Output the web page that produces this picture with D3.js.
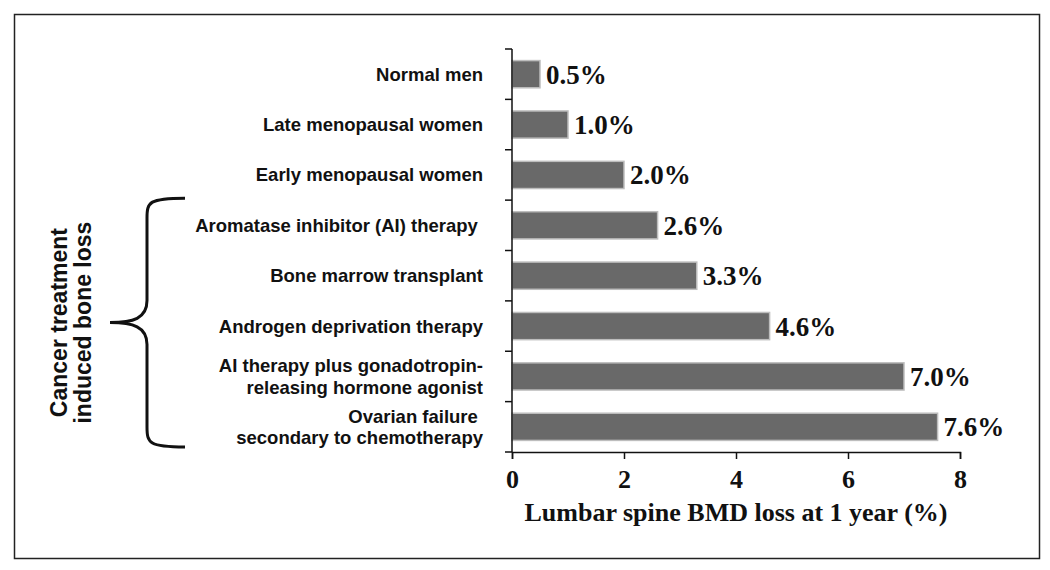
<!DOCTYPE html>
<html>
<head>
<meta charset="utf-8">
<script src="https://cdn.jsdelivr.net/npm/d3@7"></script>
<style>
  body { margin: 0; background: #fff; }
  svg text { white-space: pre; }
</style>
</head>
<body>
<div id="chart"></div>
<script>
// chart data
const categories = [
  ["Normal men"],
  ["Late menopausal women"],
  ["Early menopausal women"],
  ["Aromatase inhibitor (AI) therapy "],
  ["Bone marrow transplant"],
  ["Androgen deprivation therapy"],
  ["AI therapy plus gonadotropin-", "releasing hormone agonist"],
  ["Ovarian failure ", "secondary to chemotherapy"]
];
const values = [0.5, 1.0, 2.0, 2.6, 3.3, 4.6, 7.0, 7.6];
const xTicks = [0, 2, 4, 6, 8];
const xTitle = "Lumbar spine BMD loss at 1 year (%)";
const groupLabel = ["Cancer treatment", "induced bone loss"];
const groupFrom = 3; // first category index in the bracket

const width = 1050, height = 570;
const margin = { left: 512, right: 90, top: 49, bottom: 118 };

const svg = d3.select("#chart").append("svg")
  .attr("width", width)
  .attr("height", height);

// outer frame
svg.append("rect")
  .attr("x", 14.5).attr("y", 14.5)
  .attr("width", 1025).attr("height", 544)
  .attr("fill", "none")
  .attr("stroke", "#222")
  .attr("stroke-width", 1.5);

const x = d3.scaleLinear([0, 8], [margin.left, width - margin.right]);
const y = d3.scaleBand(d3.range(categories.length), [margin.top, height - margin.bottom])
  .paddingInner(0.46).paddingOuter(0.23);

const serif = "'Liberation Serif', 'Times New Roman', serif";
const sans = "'Liberation Sans', Arial, sans-serif";

// bars
svg.append("g").selectAll("rect")
  .data(values)
  .join("rect")
  .attr("x", x(0))
  .attr("y", (d, i) => y(i))
  .attr("width", d => x(d) - x(0))
  .attr("height", y.bandwidth())
  .attr("fill", "#696969")
  .attr("stroke", "#bdbdbd")
  .attr("stroke-width", 1.5);

// value labels
svg.append("g").selectAll("text")
  .data(values)
  .join("text")
  .attr("x", d => x(d) + 6)
  .attr("y", (d, i) => y(i) + y.bandwidth() / 2)
  .attr("dy", "0.35em")
  .attr("font-family", serif)
  .attr("font-weight", "bold")
  .attr("font-size", 27)
  .attr("fill", "#111")
  .text(d => d.toFixed(1) + "%");

// x axis
const xAxis = svg.append("g")
  .attr("transform", `translate(0,${height - margin.bottom})`)
  .call(d3.axisBottom(x).tickValues(xTicks).tickSize(7).tickPadding(11).tickFormat(d3.format("d")));
xAxis.select(".domain").attr("stroke", "#111").attr("stroke-width", 1.5);
xAxis.selectAll(".tick line").attr("stroke", "#111").attr("stroke-width", 1.5);
xAxis.selectAll("text")
  .attr("font-family", serif)
  .attr("font-weight", "bold")
  .attr("font-size", 26)
  .attr("fill", "#111");

// y axis line with ticks at category boundaries
const step = y.step();
const bounds = d3.range(categories.length + 1).map(i => margin.top + i * step);
const yg = svg.append("g");
yg.append("line")
  .attr("x1", x(0)).attr("x2", x(0))
  .attr("y1", margin.top).attr("y2", height - margin.bottom)
  .attr("stroke", "#111").attr("stroke-width", 1.5);
yg.selectAll(".yt")
  .data(bounds)
  .join("line")
  .attr("x1", x(0) - 7).attr("x2", x(0))
  .attr("y1", d => d).attr("y2", d => d)
  .attr("stroke", "#111").attr("stroke-width", 1.5);

// category labels
const fs = 18.5;
const catG = svg.append("g").selectAll("text")
  .data(categories)
  .join("text")
  .attr("x", 483)
  .attr("y", (d, i) => y(i) + y.bandwidth() / 2)
  .attr("text-anchor", "end")
  .attr("font-family", sans)
  .attr("font-weight", "bold")
  .attr("font-size", fs)
  .attr("fill", "#111");
catG.each(function (lines) {
  const t = d3.select(this);
  const lh = 21.5;
  lines.forEach((ln, k) => {
    t.append("tspan")
      .attr("x", 483)
      .attr("dy", k === 0 ? (0.35 * fs - (lines.length - 1) * lh / 2) : lh)
      .text(ln);
  });
});

// x axis title
svg.append("text")
  .attr("x", (x(0) + x(8)) / 2)
  .attr("y", 521)
  .attr("text-anchor", "middle")
  .attr("font-family", serif)
  .attr("font-weight", "bold")
  .attr("font-size", 26)
  .attr("fill", "#111")
  .text(xTitle);

// brace for cancer treatment group
const bTop = margin.top + groupFrom * step - 2;
const bBot = height - margin.bottom - 5;
const bMid = (bTop + bBot) / 2;
const bx = 147, tip = 110, r = 185;
const path = d3.path();
path.moveTo(r, bTop);
path.bezierCurveTo(bx + 2, bTop, bx, bTop + 4, bx, bTop + 20);
path.lineTo(bx, bMid - 22);
path.bezierCurveTo(bx, bMid - 4, bx - 14, bMid, tip, bMid);
path.bezierCurveTo(bx - 14, bMid, bx, bMid + 4, bx, bMid + 22);
path.lineTo(bx, bBot - 20);
path.bezierCurveTo(bx, bBot - 4, bx + 2, bBot, r, bBot);
svg.append("path")
  .attr("d", path.toString())
  .attr("fill", "none")
  .attr("stroke", "#111")
  .attr("stroke-width", 3);

// rotated group label
const gl = svg.append("text")
  .attr("transform", `translate(70,${bMid}) rotate(-90)`)
  .attr("text-anchor", "middle")
  .attr("font-family", sans)
  .attr("font-weight", "bold")
  .attr("font-size", 23)
  .attr("fill", "#111");
groupLabel.forEach((ln, k) => {
  gl.append("tspan")
    .attr("x", 0)
    .attr("dy", k === 0 ? "-0.15em" : "1.05em")
    .text(ln);
});
</script>
</body>
</html>
